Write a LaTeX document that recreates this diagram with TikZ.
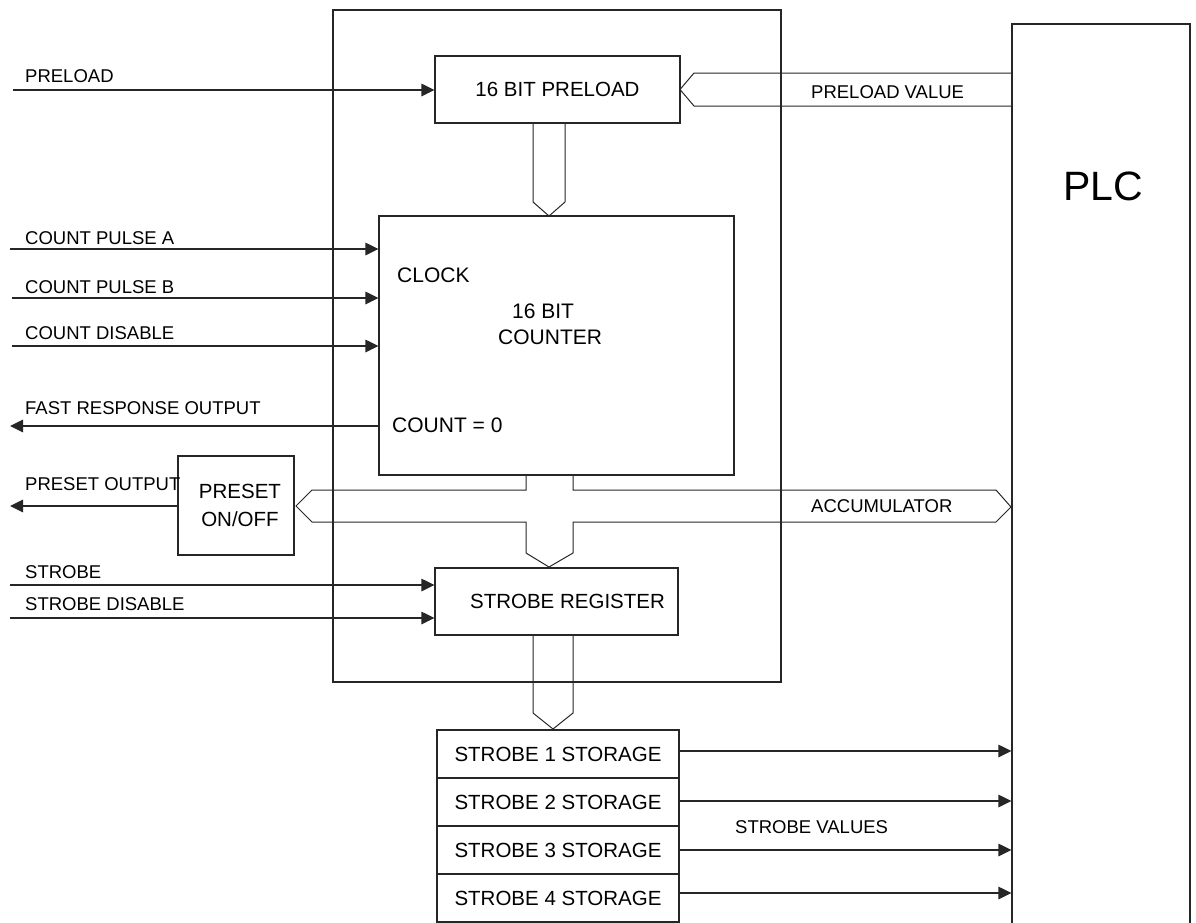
\documentclass[tikz,border=0pt]{standalone}
\usepackage{fontspec}
\setmainfont{Liberation Sans}
\usetikzlibrary{arrows.meta,calc}
\begin{document}
\begin{tikzpicture}[x=1pt,y=-1pt,
  line/.style={draw=black!85,line width=1.1pt},
  box/.style={line, rectangle, inner sep=0pt, font=\fontsize{20.5}{28}\selectfont},
  lbl/.style={inner sep=0pt, anchor=base west, font=\fontsize{18.5}{22}\selectfont},
  btxt/.style={inner sep=0pt, anchor=base west, font=\fontsize{21}{26}\selectfont},
  arr/.style={line, -{Triangle[length=13pt,width=12.5pt]}},
  bus/.style={line, line width=1pt, line join=miter}
]
\useasboundingbox (0,0) rectangle (1196,922);

% boxes
\node[box, minimum width=448, minimum height=672] (module) at (557,346) {};
\node[box, minimum width=178, minimum height=920] (plc) at (1101,484) {};
\node[box, minimum width=245, minimum height=67] (preload) at (557.5,89.5) {16 BIT PRELOAD};
\node[box, minimum width=355, minimum height=259] (counter) at (556.5,345.5) {};
\node[box, minimum width=116, minimum height=99, align=center] (preset) at (236,505.5) {\hspace*{8pt}PRESET\\\hspace*{8pt}ON/OFF};
\node[box, minimum width=243, minimum height=67] (strobereg) at (556.5,601.5) {\hspace*{22pt}STROBE REGISTER};
\node[box, minimum width=242, minimum height=48] (s1) at (558,754) {STROBE 1 STORAGE};
\node[box, minimum width=242, minimum height=48] (s2) at (558,802) {STROBE 2 STORAGE};
\node[box, minimum width=242, minimum height=48] (s3) at (558,850) {STROBE 3 STORAGE};
\node[box, minimum width=242, minimum height=48] (s4) at (558,898) {STROBE 4 STORAGE};

% texts inside counter and PLC
\node[btxt] (tclock) at (397,282) {CLOCK};
\node[btxt] (t16bit) at (512,318) {16 BIT};
\node[btxt] (tcounter) at (498,344) {COUNTER};
\node[btxt] (tzero) at (392,432) {COUNT = 0};
\node[inner sep=0pt, anchor=base west, font=\fontsize{41}{48}\selectfont] (tplc) at (1063,200) {PLC};

% signal labels
\node[lbl] (lpreload) at (25,82) {PRELOAD};
\node[lbl] (lcpa) at (25,244) {COUNT PULSE A};
\node[lbl] (lcpb) at (25,293) {COUNT PULSE B};
\node[lbl] (lcd) at (25,339) {COUNT DISABLE};
\node[lbl] (lfro) at (25,414) {FAST RESPONSE OUTPUT};
\node[lbl] (lpo) at (25,490) {PRESET OUTPUT};
\node[lbl] (lstrobe) at (25,578) {STROBE};
\node[lbl] (lsd) at (25,610) {STROBE DISABLE};
\node[lbl] (lpv) at (811,98) {PRELOAD VALUE};
\node[lbl] (lacc) at (811,512) {ACCUMULATOR};
\node[lbl] (lsv) at (735,833) {STROBE VALUES};

% input / output arrows
\coordinate (inPre) at (13,90);
\coordinate (inA) at (10,249);
\coordinate (inB) at (12,298);
\coordinate (inD) at (12,346);
\coordinate (outF) at (10,426);
\coordinate (outP) at (10,506);
\coordinate (inS) at (10,585);
\coordinate (inSD) at (10,618);
\draw[arr] (inPre) -- (inPre -| preload.west);
\draw[arr] (inA) -- (inA -| counter.west);
\draw[arr] (inB) -- (inB -| counter.west);
\draw[arr] (inD) -- (inD -| counter.west);
\draw[arr] (outF -| counter.west) -- (outF);
\draw[arr] (outP -| preset.west) -- (outP);
\draw[arr] (inS) -- (inS -| strobereg.west);
\draw[arr] (inSD) -- (inSD -| strobereg.west);

% strobe values to PLC
\draw[arr] ([yshift=3pt]s1.east) -- ([yshift=3pt]s1.east -| plc.west);
\draw[arr] ([yshift=1pt]s2.east) -- ([yshift=1pt]s2.east -| plc.west);
\draw[arr] (s3.east) -- (s3.east -| plc.west);
\draw[arr] ([yshift=5pt]s4.east) -- ([yshift=5pt]s4.east -| plc.west);

% buses
\draw[bus] (533,123) -- (533,202) -- (549,216) -- (565,202) -- (565,123);
\draw[bus] (1012,73) -- (694,73) -- (680,89.5) -- (694,106) -- (1012,106);
\draw[bus] (526,475) -- (526,490) -- (312,490) -- (296,506) -- (312,522) -- (526,522)
  -- (526,553) -- (549,567) -- (573,553) -- (573,522) -- (996,522) -- (1011,507)
  -- (996,490) -- (573,490) -- (573,475);
\draw[bus] (533,635) -- (533,713) -- (553,729) -- (573,713) -- (573,635);
\end{tikzpicture}
\end{document}
